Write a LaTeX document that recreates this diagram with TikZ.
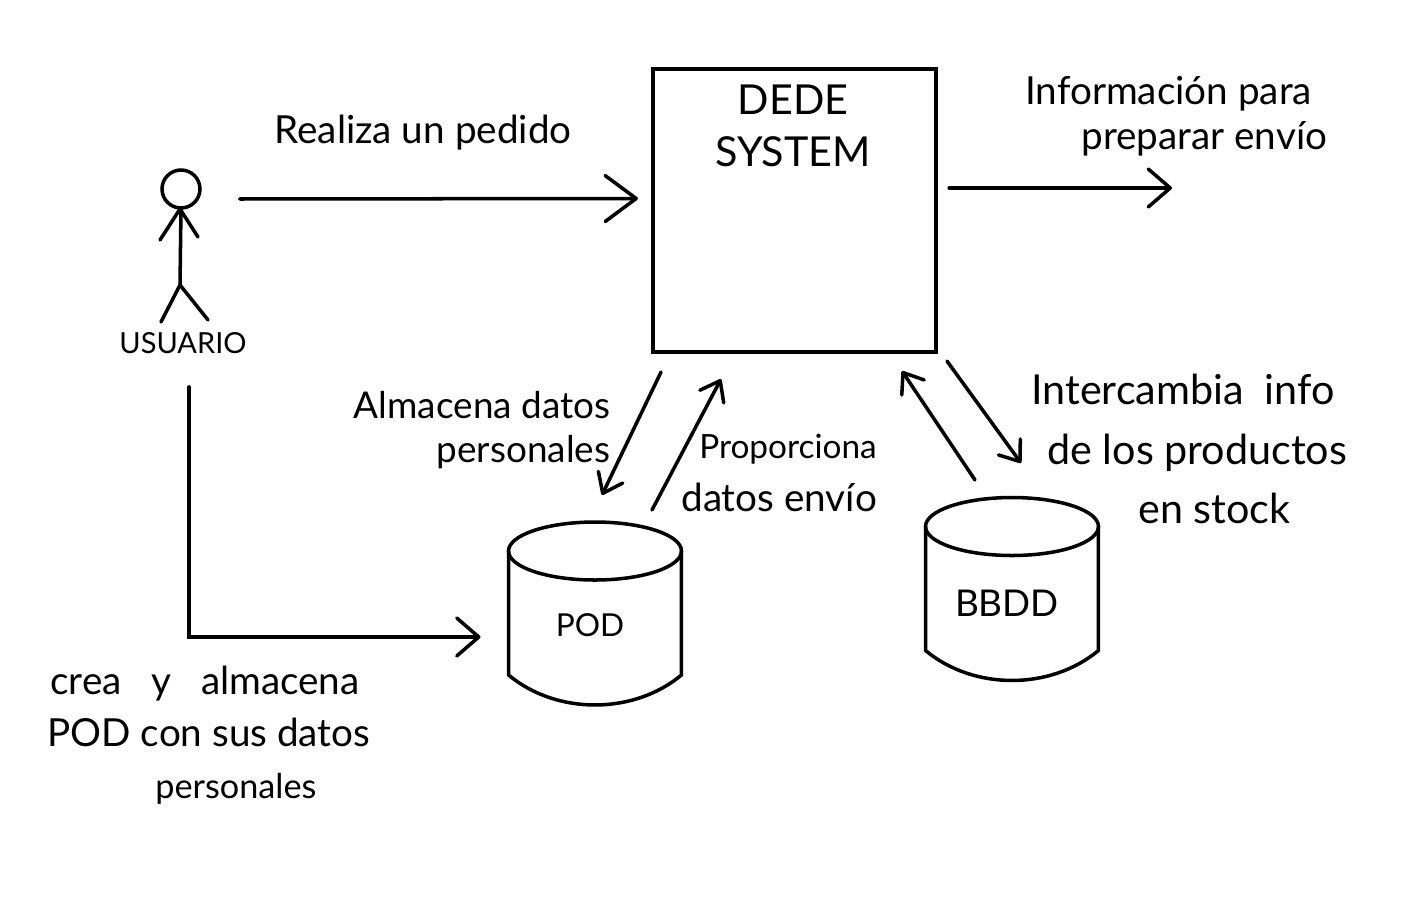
\documentclass[tikz,border=0pt]{standalone}
\usepackage{fontspec}
\setmainfont{Lato}
\usetikzlibrary{arrows.meta}

\newcommand{\drum}[1]{
	\draw[person] ([shift={(0,29)}]#1.north) ellipse [x radius=1.73cm, y radius=0.58cm];
	\draw[person] ([shift={(0,29)}]#1.north west) -- ([shift={(0,-30)}]#1.south west)
		.. controls +(48,40) and +(-48,40) .. ([shift={(0,-30)}]#1.south east)
		-- ([shift={(0,29)}]#1.north east);
}

\begin{document}
\begin{tikzpicture}[
	x=0.02cm,
	y=-0.02cm,
	system/.style={
		rectangle,
		draw=black,
		line width=2.4pt,
		minimum width=5.66cm,
		minimum height=5.66cm,
		inner sep=0pt
	},
	store/.style={
		rectangle,
		minimum width=3.46cm,
		minimum height=3.66cm,
		inner sep=0pt,
		outer sep=0pt
	},
	head/.style={circle, draw=black, line width=2pt, minimum size=0.76cm, inner sep=0pt},
	person/.style={line width=2pt, line cap=round, black},
	txt/.style={align=center, inner sep=0pt},
	edge/.style={-{Straight Barb[length=0.44cm,width=0.76cm,round]}, line width=2pt, line cap=round, black},
	edgebig/.style={-{Straight Barb[length=0.62cm,width=0.92cm,round]}, line width=2pt, line cap=round, black},
	edgesmall/.style={-{Straight Barb[length=0.36cm,width=0.54cm,round]}, line width=2pt, line cap=round, black}
]
\useasboundingbox (0,0) rectangle (1404,902);

\node[system] (dede) at (794.5,210.5) {};
\node[store] (pod) at (595,613.5) {};
\node[store] (bbdd) at (1012,589) {};
\drum{pod}
\drum{bbdd}
\node[head] (cabeza) at (181,189) {};
\coordinate (hombro) at (180,209);
\coordinate (cadera) at (180,285);
\coordinate (salida) at (1172,188);

\draw[person] (cabeza.south) -- (cadera);
\draw[person] (hombro) -- (160,240);
\draw[person] (hombro) -- (198,237);
\draw[person] (cadera) -- (161,322);
\draw[person] (cadera) -- (208,320);

\node[txt,font=\fontsize{16.5}{20}\selectfont] (usuario) at (183,343) {USUARIO};
\node[txt,font=\fontsize{23.5}{29.5}\selectfont] (dedetxt) at (793,126) {DEDE\\SYSTEM};
\node[txt,font=\fontsize{18}{25}\selectfont] (podtxt) at (590,625) {POD};
\node[txt,font=\fontsize{21}{25}\selectfont] (bbddtxt) at (1007,603) {BBDD};

\node[txt,font=\fontsize{22}{25}\selectfont] (pedido) at (423,133) {Realiza un pedido};
\node[txt,anchor=west,align=left,font=\fontsize{22}{25.5}\selectfont] (info) at (1025,116) {Información para\\\hspace*{1.12cm}preparar envío};
\node[txt,align=right,font=\fontsize{21}{25}\selectfont] (almacena) at (482,430) {Almacena datos\\personales};
\node[txt,anchor=west,align=left,font=\fontsize{22}{30}\selectfont] (proporciona) at (681,473) {\hspace*{0.36cm}{\fontsize{19}{30}\selectfont Proporciona}\\datos envío};
\node[txt,anchor=west,align=left,font=\fontsize{23.5}{34}\selectfont] (intercambia) at (1031,449) {Intercambia\ \ info\\\hspace*{0.32cm}de los productos\\\hspace*{2.14cm}en stock};
\node[txt,anchor=west,align=left,font=\fontsize{22}{29.5}\selectfont] (crea) at (47,735) {\hspace*{0.06cm}crea\ \ \ y\ \ \ almacena\\POD con sus datos\\\hspace*{2.16cm}{\fontsize{19.5}{29.5}\selectfont personales}};

\draw[edgebig] ([shift={(38,10)}]cabeza.east) -- ([shift={(-13,-12)}]dede.west);
\draw[edge] ([shift={(11,-22.5)}]dede.east) -- (salida);
\draw[edge] ([yshift=-0.66cm]usuario.south -| 189,0) |- ([shift={(-28,23.5)}]pod.west);
\draw[edgesmall] ([shift={(-133.5,18)}]dede.south) -- ([shift={(7,-118.5)}]pod.center);
\draw[edgesmall] ([shift={(57,-103.5)}]pod.center) -- ([shift={(-73.5,25)}]dede.south);
\draw[edgesmall] ([shift={(-37,-109)}]bbdd.center) -- ([shift={(107.5,17)}]dede.south);
\draw[edgesmall] ([shift={(152.5,7)}]dede.south) -- ([shift={(9,-126)}]bbdd.center);
\end{tikzpicture}
\end{document}
